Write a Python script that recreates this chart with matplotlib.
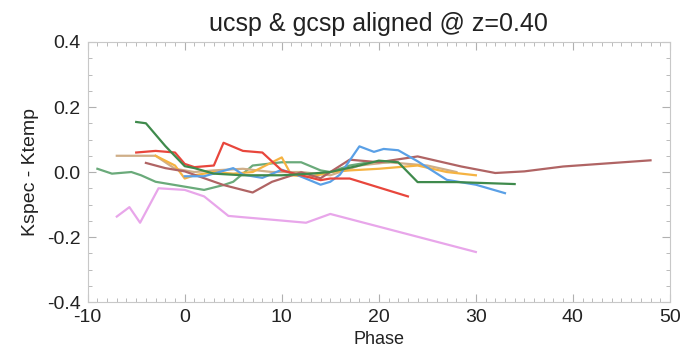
import numpy as np
import matplotlib
matplotlib.use('Agg')
from matplotlib import pyplot as plt
from matplotlib.ticker import MultipleLocator

plt.rcParams['font.family'] = ['Liberation Sans', 'DejaVu Sans']

# 各条曲线 (phase, Kspec - Ktemp)
red_x = [-5, -3, -1, 0, 1, 3, 4, 6, 8, 10, 12, 14, 15, 17, 23]
red_y = [0.06, 0.065, 0.06, 0.025, 0.015, 0.02, 0.09, 0.065, 0.06, 0.005, -0.01, -0.025, -0.02, -0.02, -0.075]

tan_x = [-7, -3, -1, 1, 3, 6, 9, 12, 15, 18, 21, 25, 28]
tan_y = [0.05, 0.05, 0.01, 0.0, 0.005, 0.01, 0.0, 0.0, -0.01, 0.02, 0.03, 0.02, 0.0]

orange_x = [-3, -1, 0, 1, 3, 5, 7, 9, 10, 11, 13, 15, 17, 20, 24, 27, 30]
orange_y = [0.05, 0.02, -0.02, -0.01, 0.0, -0.005, 0.0, 0.03, 0.045, -0.01, -0.015, 0.0, 0.005, 0.01, 0.02, 0.0, -0.01]

brown_x = [-4, -2, 0, 4, 7, 9, 12, 14, 17, 20, 24, 28.5, 32, 35, 39, 48]
brown_y = [0.028, 0.012, 0.002, -0.04, -0.063, -0.03, -0.001, -0.019, 0.038, 0.03, 0.048, 0.017, -0.003, 0.002, 0.017, 0.036]

blue_x = [0, 2, 5, 6, 8, 10, 11.5, 14, 15, 16, 18, 19.5, 20.5, 22, 24, 27, 30, 33]
blue_y = [-0.013, -0.013, 0.012, -0.008, -0.018, 0.007, -0.008, -0.039, -0.03, -0.008, 0.079, 0.062, 0.071, 0.067, 0.033, -0.024, -0.039, -0.065]

dgreen_x = [-5, -4, -2, 0, 1, 3, 6, 10, 13, 15, 18, 20, 22, 24, 28, 34]
dgreen_y = [0.154, 0.15, 0.08, 0.018, 0.012, -0.005, -0.01, -0.01, -0.005, 0.0, 0.02, 0.035, 0.03, -0.031, -0.031, -0.037]

lgreen_x = [-9, -7.5, -5.5, -4.5, -3, 0, 2, 4, 5, 7, 10, 12, 14, 15, 17, 19, 21]
lgreen_y = [0.01, -0.005, 0.0, -0.01, -0.03, -0.045, -0.055, -0.04, -0.03, 0.02, 0.03, 0.03, 0.005, 0.0, 0.02, 0.03, 0.03]

pink_x = [-7, -5.7, -4.6, -2.7, 0, 2, 4.5, 6, 9.5, 12.5, 15, 30]
pink_y = [-0.137, -0.108, -0.156, -0.05, -0.055, -0.075, -0.135, -0.139, -0.148, -0.156, -0.129, -0.246]

fig = plt.figure(figsize=(6.85, 3.5), dpi=100)
ax = fig.add_axes([0.128, 0.137, 0.850, 0.743])

lw = 1.6
ax.plot(lgreen_x, lgreen_y, color='#6aaa7a', lw=lw)
ax.plot(tan_x, tan_y, color='#cfae88', lw=lw)
ax.plot(orange_x, orange_y, color='#f5b342', lw=lw)
ax.plot(brown_x, brown_y, color='#b06464', lw=lw)
ax.plot(blue_x, blue_y, color='#5aa0e6', lw=lw)
ax.plot(red_x, red_y, color='#e8463c', lw=lw)
ax.plot(dgreen_x, dgreen_y, color='#3f8a4c', lw=lw)
ax.plot(pink_x, pink_y, color='#e8a6ea', lw=lw)

ax.set_xlim(-10, 50)
ax.set_ylim(-0.4, 0.4)
ax.xaxis.set_major_locator(MultipleLocator(10))
ax.xaxis.set_minor_locator(MultipleLocator(1))
ax.yaxis.set_major_locator(MultipleLocator(0.2))
ax.yaxis.set_minor_locator(MultipleLocator(0.05))
ax.xaxis.set_major_formatter(plt.FuncFormatter(lambda v, p: '%d' % v))
ax.yaxis.set_major_formatter(plt.FuncFormatter(lambda v, p: '%.1f' % v))

for s in ax.spines.values():
    s.set_color('#c8c8c8')
    s.set_linewidth(0.8)
ax.tick_params(which='both', direction='in', top=True, right=True, color='#b0b0b0',
               labelsize=14, labelcolor='#222222')
ax.tick_params(which='major', length=6, width=0.8, pad=5)
ax.tick_params(which='minor', length=3, width=0.6)

ax.set_title('ucsp & gcsp aligned @ z=0.40', fontsize=18, color='#222222', pad=8)
ax.set_xlabel('Phase', fontsize=13, color='#222222')
ax.xaxis.set_label_coords(0.5, -0.112)
ax.set_ylabel('Kspec - Ktemp', fontsize=14, color='#222222', labelpad=6)

plt.savefig('out.png', dpi=100)
